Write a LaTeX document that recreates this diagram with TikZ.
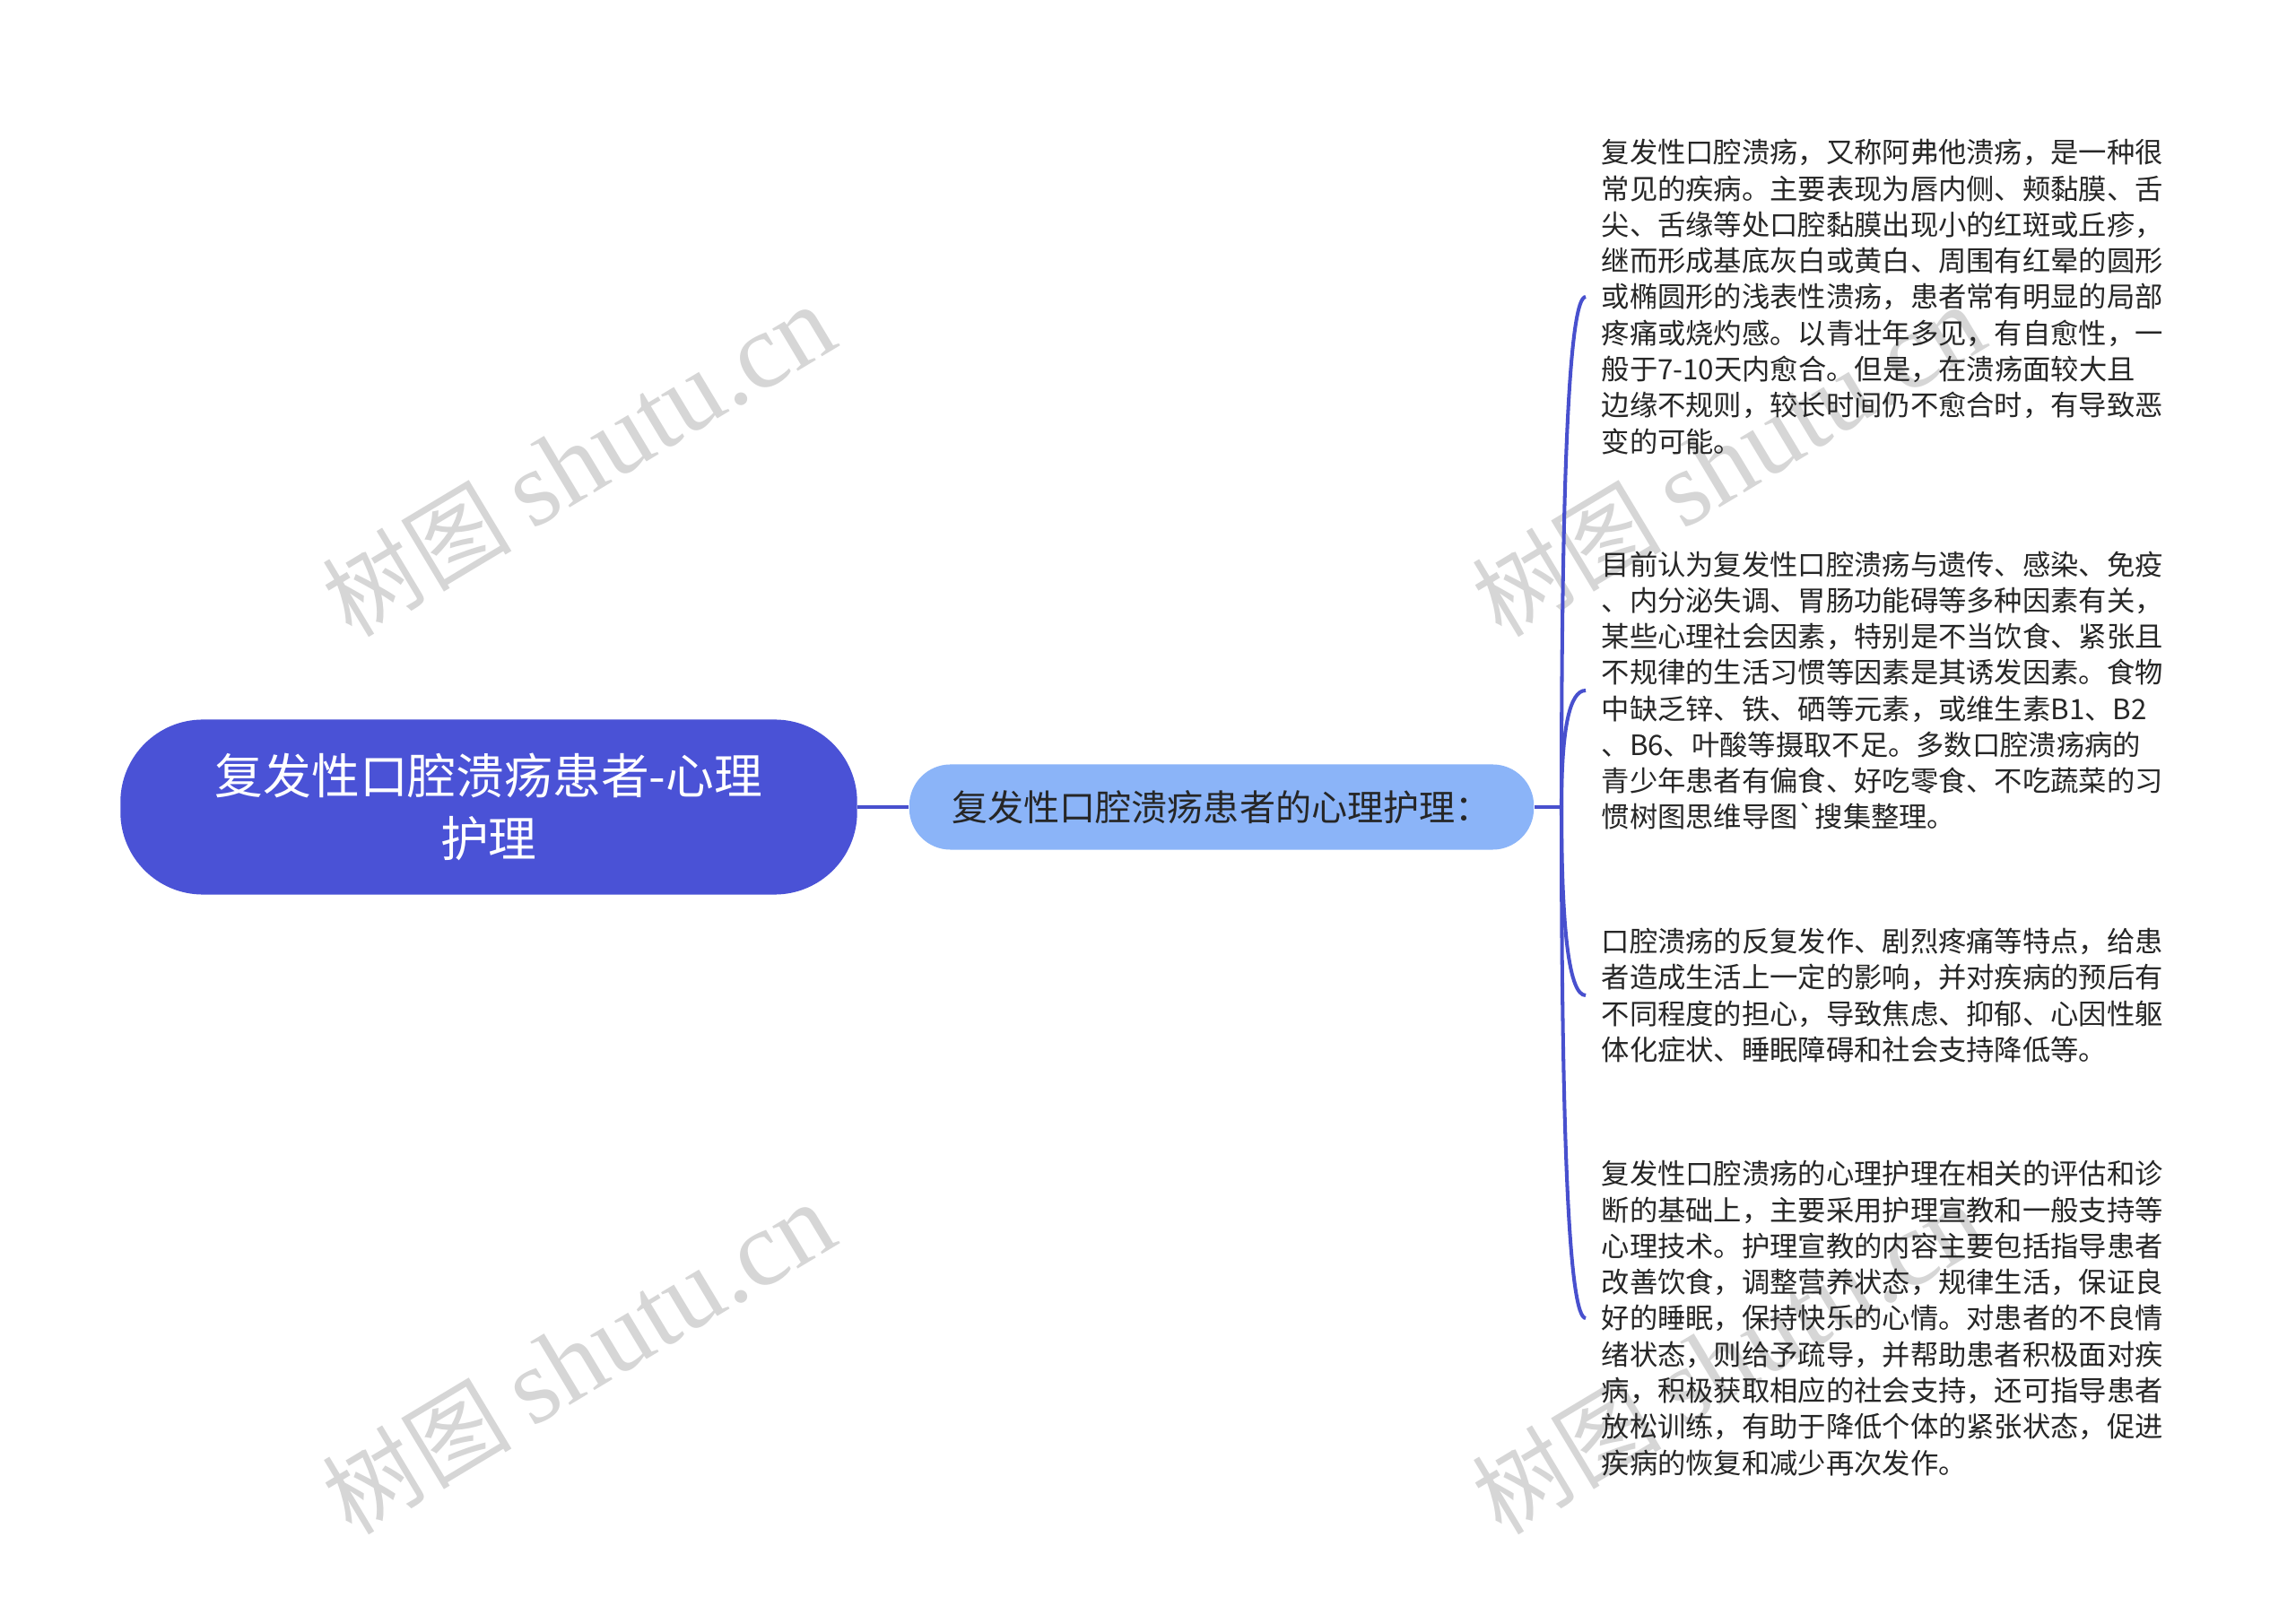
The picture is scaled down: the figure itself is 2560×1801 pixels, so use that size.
\documentclass[tikz,border=0pt]{standalone}
\usepackage{fontspec}
\newfontfamily\cjk{Noto Sans CJK SC}
\newfontfamily\wmlatin{Liberation Serif}
\usetikzlibrary{calc}

\definecolor{rootblue}{RGB}{74,82,214}
\definecolor{subblue}{RGB}{139,180,248}
\definecolor{linkblue}{RGB}{72,80,206}
\definecolor{wmgray}{RGB}{214,214,214}
\definecolor{leaftext}{RGB}{38,38,38}

\tikzset{
	rootnode/.style={fill=rootblue, text=white, rounded corners=0.92cm, minimum width=8.21cm, minimum height=1.95cm, align=center, font=\cjk\fontsize{15.3pt}{19.9pt}\selectfont},
	carenode/.style={fill=subblue, text=leaftext, rounded corners=0.46cm, minimum width=6.96cm, minimum height=0.95cm, font=\cjk\fontsize{11.4pt}{13pt}\selectfont},
	leaf/.style={anchor=west, inner xsep=0.17cm, align=left, text=leaftext, font=\cjk\fontsize{8.9pt}{11.45pt}\selectfont},
	link/.style={draw=linkblue, line width=1.15pt},
	watermark/.style={rotate=31, text=wmgray, font=\cjk\fontsize{30pt}{30pt}\selectfont}
}

\begin{document}
\begin{tikzpicture}[x=0.01cm, y=-0.01cm]
	\useasboundingbox[fill=white] (0,0) rectangle (2560,1801);

	\foreach \wx/\wy in {645/514, 1927/514, 645/1515, 1927/1515}
		\node[watermark] at (\wx,\wy) {树图 {\wmlatin\fontsize{34pt}{34pt}\selectfont shutu.cn}};

	\node[rootnode] (root) at (545,900) {复发性口腔溃疡患者-心理\\护理};
	\node[carenode] (care) at (1362,900) {复发性口腔溃疡患者的心理护理：};
	\coordinate (fork) at (1741,900);

	\node[leaf] (l1) at (1768,331) {复发性口腔溃疡，又称阿弗他溃疡，是一种很\\常见的疾病。主要表现为唇内侧、颊黏膜、舌\\尖、舌缘等处口腔黏膜出现小的红斑或丘疹，\\继而形成基底灰白或黄白、周围有红晕的圆形\\或椭圆形的浅表性溃疡，患者常有明显的局部\\疼痛或烧灼感。以青壮年多见，有自愈性，一\\般于7-10天内愈合。但是，在溃疡面较大且\\边缘不规则，较长时间仍不愈合时，有导致恶\\变的可能。};
	\node[leaf] (l2) at (1768,770) {目前认为复发性口腔溃疡与遗传、感染、免疫\\、内分泌失调、胃肠功能碍等多种因素有关，\\某些心理社会因素，特别是不当饮食、紧张且\\不规律的生活习惯等因素是其诱发因素。食物\\中缺乏锌、铁、硒等元素，或维生素B1、B2\\、B6、叶酸等摄取不足。多数口腔溃疡病的\\青少年患者有偏食、好吃零食、不吃蔬菜的习\\惯树图思维导图`搜集整理。};
	\node[leaf] (l3) at (1768,1110) {口腔溃疡的反复发作、剧烈疼痛等特点，给患\\者造成生活上一定的影响，并对疾病的预后有\\不同程度的担心，导致焦虑、抑郁、心因性躯\\体化症状、睡眠障碍和社会支持降低等。};
	\node[leaf] (l4) at (1768,1470) {复发性口腔溃疡的心理护理在相关的评估和诊\\断的基础上，主要采用护理宣教和一般支持等\\心理技术。护理宣教的内容主要包括指导患者\\改善饮食，调整营养状态，规律生活，保证良\\好的睡眠，保持快乐的心情。对患者的不良情\\绪状态，则给予疏导，并帮助患者积极面对疾\\病，积极获取相应的社会支持，还可指导患者\\放松训练，有助于降低个体的紧张状态，促进\\疾病的恢复和减少再次发作。};

	\draw[link] (root) -- (care);
	\draw[link] (care.east) -- (fork);
	\foreach \leaf in {l1,l2,l3,l4}
		\draw[link] (fork) .. controls ($(fork)!0.67!(fork |- \leaf.west)$) and ($(\leaf.west)!0.67!(fork |- \leaf.west)$) .. (\leaf.west);
\end{tikzpicture}
\end{document}
